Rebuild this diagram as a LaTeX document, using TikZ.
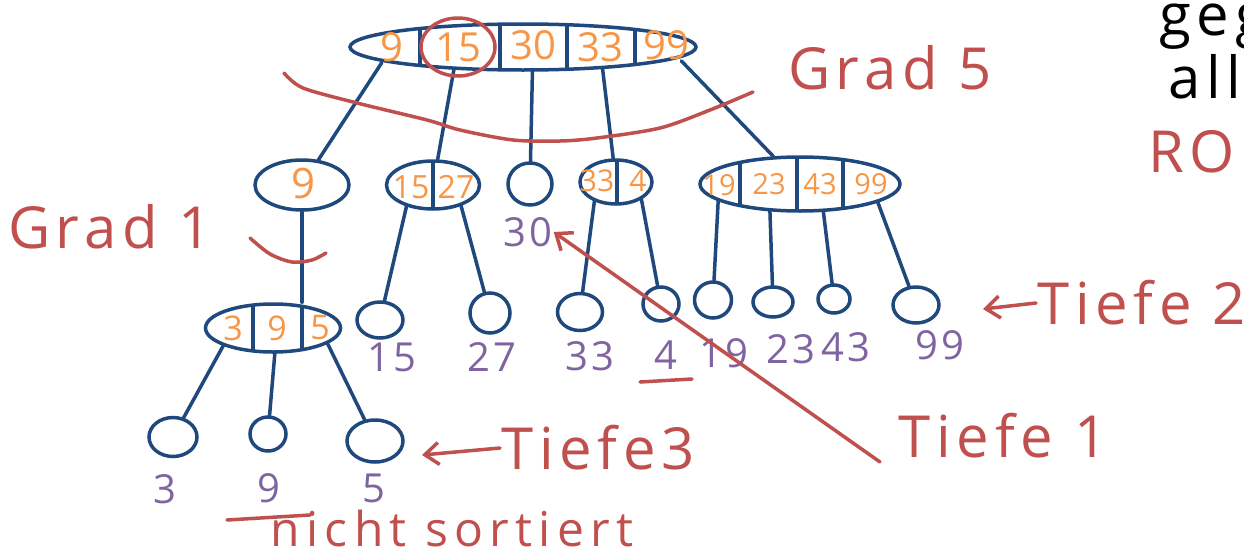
\documentclass[tikz,border=0pt]{standalone}
\usepackage{fontspec}
\setmainfont{Open Sans}
\usetikzlibrary{shapes.geometric, arrows.meta, backgrounds}
\definecolor{penblue}{RGB}{31,73,125}
\definecolor{penorange}{RGB}{247,150,70}
\definecolor{penred}{RGB}{192,80,77}
\definecolor{penpurple}{RGB}{128,100,162}

\begin{document}
\begin{tikzpicture}[x=1pt, y=-1pt,
  knot/.style={ellipse, draw=penblue, line width=3.5pt, fill=white, inner sep=0pt},
  leaf/.style={ellipse, draw=penblue, line width=3.5pt, fill=white, inner sep=0pt},
  key/.style={text=penorange, font=\fontsize{32}{32}\selectfont, inner sep=1pt},
  val/.style={text=penpurple, font=\fontsize{40}{40}\selectfont\addfontfeatures{LetterSpace=8}, inner sep=1pt},
  note/.style={text=penred, font=\fontsize{58}{58}\selectfont\addfontfeatures{LetterSpace=10}, inner sep=1pt},
  branch/.style={draw=penblue, line width=3.5pt, line cap=round},
  sep/.style={draw=penblue, line width=3.5pt},
  redpen/.style={draw=penred, line width=3.5pt, line cap=round, line join=round},
  redtip/.style={redpen, -{Straight Barb[length=14pt, width=22pt, line width=3.5pt]}}]
\useasboundingbox (0,0) rectangle (1244,557);

\node[knot, minimum width=346pt, minimum height=46pt] (root) at (523,47) {};
\node[key, font=\fontsize{40}{40}\selectfont] (k9) at (392,47) {9};
\node[key, font=\fontsize{40}{40}\selectfont] (k15) at (458,47) {15};
\node[key, font=\fontsize{40}{40}\selectfont] (k30) at (533,45) {30};
\node[key, font=\fontsize{40}{40}\selectfont] (k33) at (600,47) {33};
\node[key, font=\fontsize{40}{40}\selectfont] (k99) at (666,45) {99};
\draw[sep] (420,28.5) -- (420,65.5);
\draw[sep] (500,24.2) -- (500,69.8);
\draw[sep] (567,24.7) -- (567,69.3);
\draw[sep] (635,29.5) -- (635,64.5);

\node[knot, minimum width=94pt, minimum height=50pt] (n9) at (302,185) {};
\node[key, font=\fontsize{42}{42}\selectfont] (k9a) at (304,183) {9};
\node[knot, minimum width=93pt, minimum height=48pt] (n1527) at (433,185) {};
\node[key] (k15a) at (411,187) {15};
\node[key] (k27) at (456,187) {27};
\draw[sep] (433,161) -- (433,209);
\node[leaf, minimum width=44pt, minimum height=42pt] (leaf30) at (530,184) {};
\node[knot, minimum width=72pt, minimum height=44pt] (n334) at (616,182) {};
\node[key, font=\fontsize{30}{30}\selectfont] (k33a) at (597,181) {33};
\node[key, font=\fontsize{30}{30}\selectfont] (k4) at (638,181) {4};
\draw[sep] (617,160) -- (617,204);
\node[knot, minimum width=200pt, minimum height=54pt] (n19) at (800,184) {};
\node[key, font=\fontsize{29}{29}\selectfont] (k19) at (719,185) {19};
\node[key, font=\fontsize{29}{29}\selectfont] (k23) at (769,184) {23};
\node[key, font=\fontsize{29}{29}\selectfont] (k43) at (820,184) {43};
\node[key, font=\fontsize{29}{29}\selectfont] (k99a) at (871,184) {99};
\draw[sep] (740,162.4) -- (740,205.6);
\draw[sep] (797,157) -- (797,211);
\draw[sep] (843,159.6) -- (843,208.4);

\node[knot, minimum width=135pt, minimum height=48pt] (n395) at (273,328) {};
\node[key, font=\fontsize{34}{34}\selectfont] (k3) at (233,328) {3};
\node[key, font=\fontsize{34}{34}\selectfont] (k9b) at (277,328) {9};
\node[key, font=\fontsize{34}{34}\selectfont] (k5) at (320,328) {5};
\draw[sep] (253,305.1) -- (253,350.9);
\draw[sep] (302,306.3) -- (302,349.7);

\node[leaf, minimum width=46pt, minimum height=36pt] (l15) at (380,320) {};
\node[leaf, minimum width=40pt, minimum height=40pt] (l27) at (490,313) {};
\node[leaf, minimum width=45pt, minimum height=37pt] (l33) at (580,312) {};
\node[leaf, minimum width=36pt, minimum height=34pt] (l4) at (661,304) {};
\node[leaf, minimum width=37pt, minimum height=36pt] (l19) at (713,300) {};
\node[leaf, minimum width=40pt, minimum height=30pt] (l23) at (773,302) {};
\node[leaf, minimum width=32pt, minimum height=28pt] (l43) at (834,299) {};
\node[leaf, minimum width=46pt, minimum height=36pt] (l99) at (916,305) {};
\node[leaf, minimum width=48pt, minimum height=39pt] (l3) at (173,437) {};
\node[leaf, minimum width=36pt, minimum height=34pt] (l9) at (268,434) {};
\node[leaf, minimum width=56pt, minimum height=42pt] (l5) at (375,441) {};

\node[val] (v30) at (528,232) {30};
\node[val] (v15) at (392,357) {15};
\node[val] (v27) at (492,357) {27};
\node[val] (v33) at (590,356) {33};
\node[val] (v4) at (666,355) {4};
\node[val] (v19) at (724,353) {19};
\node[val] (v23) at (791,349) {23};
\node[val] (v43) at (846,347) {43};
\node[val] (v99) at (940,345) {99};
\node[val] (v3) at (165,489) {3};
\node[val] (v9) at (269,488) {9};
\node[val] (v5) at (374,488) {5};

\begin{scope}[on background layer]
\fill[white] (0,0) rectangle (1244,557);
\draw[branch] (k9) -- (n9);
\draw[branch] (k15) -- (n1527);
\draw[branch] (k30) -- (leaf30);
\draw[branch] (k33) -- (n334);
\draw[branch] (k99) -- (n19);
\draw[branch] (n9.south) -- (n9.south |- n395.north);
\draw[branch] (k15a) -- (l15);
\draw[branch] (k27) -- (l27);
\draw[branch] (k33a) -- (l33);
\draw[branch] (k4) -- (l4);
\draw[branch] (k19) -- (l19);
\draw[branch] (k23) -- (l23);
\draw[branch] (k43) -- (l43);
\draw[branch] (k99a) -- (l99);
\draw[branch] (k3) -- (l3);
\draw[branch] (k9b) -- (l9);
\draw[branch] (k5) -- (l5);
\end{scope}

% red notes
\draw[redpen] (k15) ellipse [x radius=37, y radius=29];
\draw[redpen] plot[smooth] coordinates {(284,73) (303,88) (357,103) (427,120) (460,130) (513,140) (560,141) (597,138) (660,128) (710,110) (753,92)};
\node[note] (g5) at (890,68) {Grad 5};
\draw[redpen] plot[smooth] coordinates {(250,238) (270,254) (292,262) (312,260) (326,253)};
\node[note] (g1) at (110,227) {Grad 1};

\node[note] (t1) at (1003,436) {Tiefe 1};
\coordinate (t1tail) at (880,462);
\draw[redtip] (t1tail) -- (v30.east);

\node[note, anchor=west] (t2) at (1036,303) {Tiefe 2};
\coordinate (a2) at (983,309);
\draw[redtip] (t2.west) -- (a2);

\node[note, anchor=west] (t3) at (500,448) {Tiefe3};
\coordinate (a3) at (422,455);
\draw[redtip] (t3.west) -- (a3);

\draw[redpen] (640,382) -- (692,379);
\draw[redpen] (227,520) -- (310,515);
\node[note, anchor=base, font=\fontsize{48}{48}\selectfont\addfontfeatures{LetterSpace=13}] (ns) at (452,546) {nicht sortiert};

\node[note, text=black, anchor=base west] (gg) at (1158,35) {geg};
\node[note, text=black, anchor=base west] (al) at (1167,98) {all};
\node[note, anchor=base west] (ro) at (1147,172) {RO};
\end{tikzpicture}
\end{document}
